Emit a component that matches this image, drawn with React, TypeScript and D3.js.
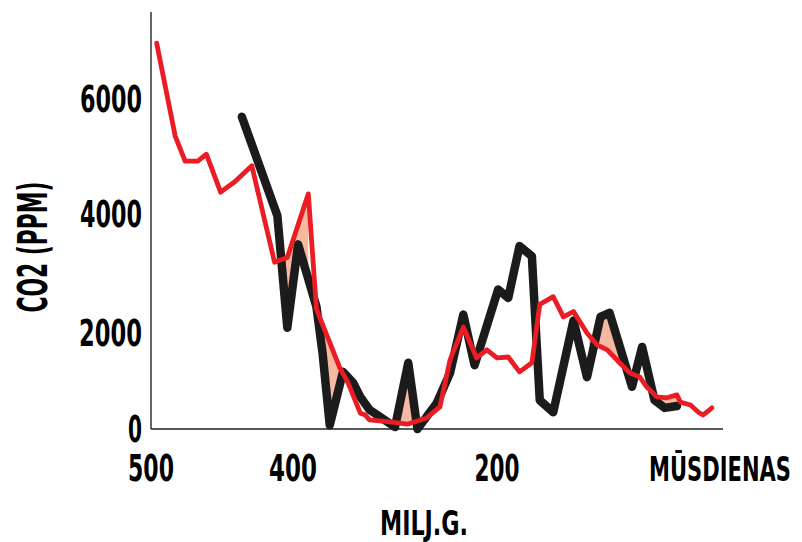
import React, { useRef, useEffect } from 'react';
import * as d3 from 'd3';

// red curve (model), age in Myr ago / CO2 ppm
const redAge = [496, 483, 476, 467, 461, 451, 441, 429, 413, 404, 385, 377, 354, 346, 334, 329, 325, 305, 288, 269, 256, 246, 233, 220, 210, 200, 190, 180, 169, 162, 150, 141, 132, 120, 111, 102, 91, 82, 73, 67, 58, 49, 40, 37, 28, 21, 17, 12, 9];
const redPpm = [6970, 5360, 4920, 4920, 5040, 4380, 4560, 4840, 3190, 3270, 4350, 2400, 1270, 960, 330, 290, 190, 150, 100, 230, 460, 1440, 2100, 1480, 1650, 1480, 1500, 1190, 1380, 2480, 2610, 2270, 2360, 2000, 1750, 1650, 1380, 1170, 1080, 880, 670, 650, 710, 560, 500, 350, 290, 380, 440];

// black curve (proxies)
const blackAge = [436, 411, 404, 395, 377, 371, 364, 351, 341, 334, 325, 300, 287, 278, 259, 246, 233, 222, 199, 190, 180, 169, 162, 150, 132, 120, 108, 100, 80, 71, 60, 51, 40];
const blackPpm = [5690, 3970, 2090, 3490, 2440, 1580, 80, 1190, 960, 670, 400, 40, 1380, 0, 540, 1170, 2310, 1330, 2730, 2590, 3460, 3290, 600, 350, 2210, 1080, 2270, 2340, 880, 1710, 600, 440, 480];

// age ranges where the gap between the curves is shaded
const shadeFrom = [410, 373, 297, 118, 55];
const shadeTo = [385, 350, 283, 82, 40];

const xTicks = [500, 400, 200, 0];
const xTickLabels = ['500', '400', '200', 'MŪSDIENAS'];
const xTickWidths = [46, 48, 45, 142];
const yTicks = [0, 2000, 4000, 6000];
const yTickLabels = ['0', '2000', '4000', '6000'];
const yTickWidths = [14, 63, 62, 62];

const FONT = "'Liberation Sans Narrow','DejaVu Sans Condensed','Liberation Sans',sans-serif";

function interp(ages: number[], vals: number[], a: number) {
  for (let i = 0; i < ages.length - 1; i++) {
    if (a <= ages[i] && a >= ages[i + 1]) {
      const t = (ages[i] - a) / (ages[i] - ages[i + 1]);
      return vals[i] + t * (vals[i + 1] - vals[i]);
    }
  }
  return a > ages[0] ? vals[0] : vals[vals.length - 1];
}

const App = () => {
  const svgRef = useRef<SVGSVGElement>(null);
  const width = 802;
  const height = 542;

  useEffect(() => {
    const svg = d3.select(svgRef.current);
    svg.selectAll('*').remove();

    // the original axis is not evenly spaced, so use piecewise scales
    const x = d3.scaleLinear().domain([500, 400, 200, 0]).range([151, 293, 497, 722]);
    const y = d3.scaleLinear().domain([0, 2000, 4000, 6000]).range([429, 333, 214, 99]);

    const g = svg.append('g');

    // shaded gaps
    for (let k = 0; k < shadeFrom.length; k++) {
      const a0 = shadeFrom[k], a1 = shadeTo[k];
      let pts = [a0, a1]
        .concat(redAge.filter(a => a < a0 && a > a1))
        .concat(blackAge.filter(a => a < a0 && a > a1));
      pts = Array.from(new Set(pts)).sort((p, q) => q - p);
      const area = d3.area<number>()
        .x(a => x(a))
        .y0(a => y(interp(blackAge, blackPpm, a)))
        .y1(a => y(interp(redAge, redPpm, a)));
      g.append('path')
        .attr('d', area(pts))
        .attr('fill', '#f5b9a2')
        .attr('stroke', 'none');
    }

    // axes
    g.append('line')
      .attr('x1', x(500)).attr('x2', x(500))
      .attr('y1', 12).attr('y2', y(0))
      .attr('stroke', '#333').attr('stroke-width', 1.5);
    g.append('line')
      .attr('x1', x(500)).attr('x2', 723)
      .attr('y1', y(0)).attr('y2', y(0))
      .attr('stroke', '#222').attr('stroke-width', 1.5);

    const blackLine = d3.line<number>()
      .x(d => x(blackAge[d]))
      .y(d => y(blackPpm[d]));
    g.append('path')
      .attr('d', blackLine(d3.range(blackAge.length)))
      .attr('fill', 'none')
      .attr('stroke', '#1b1b1b')
      .attr('stroke-width', 8.5)
      .attr('stroke-linejoin', 'round')
      .attr('stroke-linecap', 'round');

    const redLine = d3.line<number>()
      .x(d => x(redAge[d]))
      .y(d => y(redPpm[d]));
    g.append('path')
      .attr('d', redLine(d3.range(redAge.length)))
      .attr('fill', 'none')
      .attr('stroke', '#ea1c24')
      .attr('stroke-width', 4.8)
      .attr('stroke-linejoin', 'round')
      .attr('stroke-linecap', 'round');

    // tick labels
    yTicks.forEach((t, i) => {
      g.append('text')
        .attr('x', 142)
        .attr('y', y(t) + 13)
        .attr('text-anchor', 'end')
        .attr('font-family', FONT)
        .attr('font-weight', 'bold')
        .attr('font-size', 37)
        .attr('textLength', yTickWidths[i])
        .attr('lengthAdjust', 'spacingAndGlyphs')
        .attr('fill', '#000')
        .text(yTickLabels[i]);
    });
    xTicks.forEach((t, i) => {
      const last = i === xTicks.length - 1;
      const txt = g.append('text')
        .attr('x', 0)
        .attr('y', 0)
        .attr('text-anchor', 'middle')
        .attr('font-family', FONT)
        .attr('font-weight', 'bold')
        .attr('font-size', last ? 34 : 37)
        .attr('fill', '#000')
        .text(xTickLabels[i]);
      // squeeze the text with a transform so its box is its real drawn size
      const natural = (txt.node() as SVGTextElement).getComputedTextLength() || xTickWidths[i];
      const cx = last ? x(t) - 2 : x(t);
      txt.attr('transform', `translate(${cx},481) scale(${xTickWidths[i] / natural},1)`);
    });

    // axis titles
    g.append('text')
      .attr('x', 424)
      .attr('y', 535)
      .attr('text-anchor', 'middle')
      .attr('font-family', FONT)
      .attr('font-weight', 'bold')
      .attr('font-size', 34)
      .attr('textLength', 88)
      .attr('lengthAdjust', 'spacingAndGlyphs')
      .text('MILJ.G.');
    g.append('text')
      .attr('transform', 'translate(47,247) rotate(-90)')
      .attr('text-anchor', 'middle')
      .attr('font-family', FONT)
      .attr('font-weight', 'bold')
      .attr('font-size', 40)
      .attr('textLength', 131)
      .attr('lengthAdjust', 'spacingAndGlyphs')
      .text('CO2 (PPM)');
  }, []);

  return (
    <svg ref={svgRef} width={width} height={height}
      style={{ position: 'absolute', left: 0, top: 0, background: '#fff' }} />
  );
};

export default App;
